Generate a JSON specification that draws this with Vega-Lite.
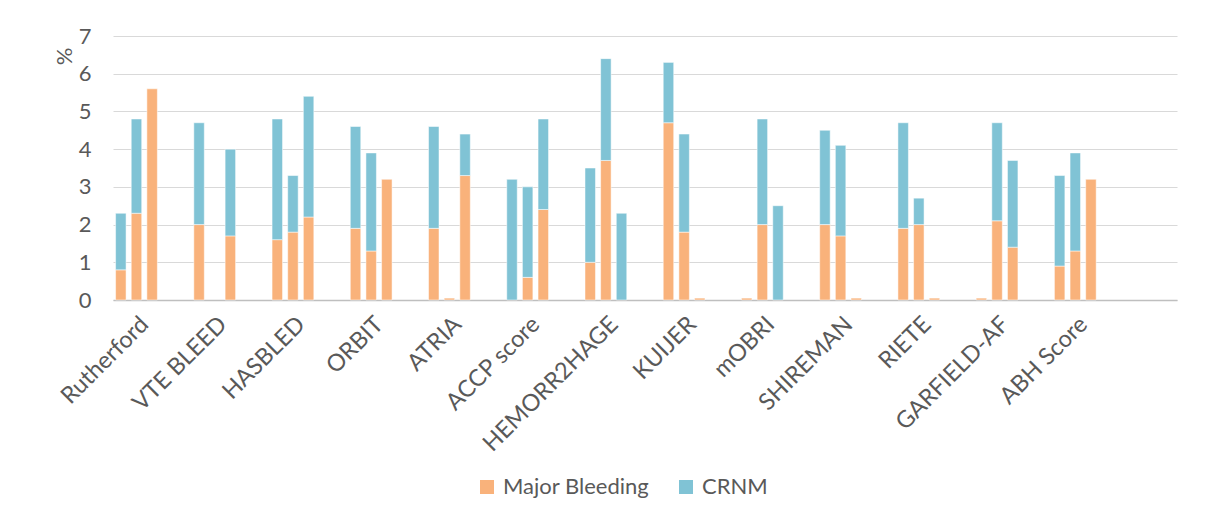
{
  "$schema": "https://vega.github.io/schema/vega-lite/v6.json",
  "width": 1064,
  "height": 264,
  "autosize": {"type": "none"},
  "padding": {"left": 113, "top": 36, "right": 38, "bottom": 222},
  "background": "white",
  "config": {
    "view": {"stroke": null},
    "font": "Lato",
    "axis": {"labelFont": "Lato", "titleFont": "Lato", "labelColor": "#595959", "titleColor": "#595959"},
    "legend": {"labelFont": "Lato", "labelColor": "#595959"}
  },
  "data": {
    "values": [
      {"slot": 0, "series": "Major Bleeding", "value": 0.8},
      {"slot": 0, "series": "CRNM", "value": 1.5},
      {"slot": 1, "series": "Major Bleeding", "value": 2.3},
      {"slot": 1, "series": "CRNM", "value": 2.5},
      {"slot": 2, "series": "Major Bleeding", "value": 5.6},
      {"slot": 5, "series": "Major Bleeding", "value": 2.0},
      {"slot": 5, "series": "CRNM", "value": 2.7},
      {"slot": 7, "series": "Major Bleeding", "value": 1.7},
      {"slot": 7, "series": "CRNM", "value": 2.3},
      {"slot": 10, "series": "Major Bleeding", "value": 1.6},
      {"slot": 10, "series": "CRNM", "value": 3.2},
      {"slot": 11, "series": "Major Bleeding", "value": 1.8},
      {"slot": 11, "series": "CRNM", "value": 1.5},
      {"slot": 12, "series": "Major Bleeding", "value": 2.2},
      {"slot": 12, "series": "CRNM", "value": 3.2},
      {"slot": 15, "series": "Major Bleeding", "value": 1.9},
      {"slot": 15, "series": "CRNM", "value": 2.7},
      {"slot": 16, "series": "Major Bleeding", "value": 1.3},
      {"slot": 16, "series": "CRNM", "value": 2.6},
      {"slot": 17, "series": "Major Bleeding", "value": 3.2},
      {"slot": 20, "series": "Major Bleeding", "value": 1.9},
      {"slot": 20, "series": "CRNM", "value": 2.7},
      {"slot": 21, "series": "Major Bleeding", "value": 0.05},
      {"slot": 22, "series": "Major Bleeding", "value": 3.3},
      {"slot": 22, "series": "CRNM", "value": 1.1},
      {"slot": 25, "series": "CRNM", "value": 3.2},
      {"slot": 26, "series": "Major Bleeding", "value": 0.6},
      {"slot": 26, "series": "CRNM", "value": 2.4},
      {"slot": 27, "series": "Major Bleeding", "value": 2.4},
      {"slot": 27, "series": "CRNM", "value": 2.4},
      {"slot": 30, "series": "Major Bleeding", "value": 1.0},
      {"slot": 30, "series": "CRNM", "value": 2.5},
      {"slot": 31, "series": "Major Bleeding", "value": 3.7},
      {"slot": 31, "series": "CRNM", "value": 2.7},
      {"slot": 32, "series": "CRNM", "value": 2.3},
      {"slot": 35, "series": "Major Bleeding", "value": 4.7},
      {"slot": 35, "series": "CRNM", "value": 1.6},
      {"slot": 36, "series": "Major Bleeding", "value": 1.8},
      {"slot": 36, "series": "CRNM", "value": 2.6},
      {"slot": 37, "series": "Major Bleeding", "value": 0.05},
      {"slot": 40, "series": "Major Bleeding", "value": 0.05},
      {"slot": 41, "series": "Major Bleeding", "value": 2.0},
      {"slot": 41, "series": "CRNM", "value": 2.8},
      {"slot": 42, "series": "CRNM", "value": 2.5},
      {"slot": 45, "series": "Major Bleeding", "value": 2.0},
      {"slot": 45, "series": "CRNM", "value": 2.5},
      {"slot": 46, "series": "Major Bleeding", "value": 1.7},
      {"slot": 46, "series": "CRNM", "value": 2.4},
      {"slot": 47, "series": "Major Bleeding", "value": 0.05},
      {"slot": 50, "series": "Major Bleeding", "value": 1.9},
      {"slot": 50, "series": "CRNM", "value": 2.8},
      {"slot": 51, "series": "Major Bleeding", "value": 2.0},
      {"slot": 51, "series": "CRNM", "value": 0.7},
      {"slot": 52, "series": "Major Bleeding", "value": 0.05},
      {"slot": 55, "series": "Major Bleeding", "value": 0.05},
      {"slot": 56, "series": "Major Bleeding", "value": 2.1},
      {"slot": 56, "series": "CRNM", "value": 2.6},
      {"slot": 57, "series": "Major Bleeding", "value": 1.4},
      {"slot": 57, "series": "CRNM", "value": 2.3},
      {"slot": 60, "series": "Major Bleeding", "value": 0.9},
      {"slot": 60, "series": "CRNM", "value": 2.4},
      {"slot": 61, "series": "Major Bleeding", "value": 1.3},
      {"slot": 61, "series": "CRNM", "value": 2.6},
      {"slot": 62, "series": "Major Bleeding", "value": 3.2}
    ]
  },
  "mark": {"type": "bar", "stroke": "white", "strokeWidth": 1, "strokeOpacity": 0.5},
  "encoding": {
    "x": {
      "field": "slot",
      "type": "ordinal",
      "scale": {
        "domain": [0,1,2,3,4,5,6,7,8,9,10,11,12,13,14,15,16,17,18,19,20,21,22,23,24,25,26,27,28,29,30,31,32,33,34,35,36,37,38,39,40,41,42,43,44,45,46,47,48,49,50,51,52,53,54,55,56,57,58,59,60,61,62,63,64,65,66,67],
        "paddingInner": 0.33,
        "paddingOuter": 0.165
      },
      "axis": {
        "title": null,
        "labelExpr": "datum.value % 5 == 1 && datum.value < 65 ? ['Rutherford','VTE BLEED','HASBLED','ORBIT','ATRIA','ACCP score','HEMORR2HAGE','KUIJER','mOBRI','SHIREMAN','RIETE','GARFIELD-AF','ABH Score'][floor(datum.value / 5)] : ''",
        "labelAngle": -45,
        "labelAlign": "right",
        "labelBaseline": "top",
        "labelFontSize": 23.5,
        "labelPadding": 12,
        "labelDx": -14,
        "labelDy": -2,
        "labelOverlap": false,
        "labelBound": false,
        "ticks": false,
        "domainColor": "#BFBFBF",
        "domainWidth": 1.5,
        "grid": false
      }
    },
    "y": {
      "field": "value",
      "type": "quantitative",
      "stack": "zero",
      "scale": {"domain": [0, 7], "nice": false},
      "axis": {
        "title": "%",
        "titleFontSize": 22,
        "titleFontWeight": "normal",
        "titleAngle": -90,
        "titleAlign": "center",
        "titleBaseline": "middle",
        "titleX": -49,
        "titleY": 20,
        "values": [0, 1, 2, 3, 4, 5, 6, 7],
        "labelFontSize": 22,
        "labelPadding": 22,
        "ticks": false,
        "domain": false,
        "gridColor": "#D9D9D9",
        "gridWidth": 1
      }
    },
    "color": {
      "field": "series",
      "type": "nominal",
      "scale": {"domain": ["Major Bleeding", "CRNM"], "range": ["#F9B27B", "#80C3D5"]},
      "legend": {
        "title": null,
        "orient": "none",
        "direction": "horizontal",
        "legendX": 363,
        "legendY": 440,
        "symbolType": "square",
        "symbolSize": 196,
        "symbolStrokeWidth": 0,
        "labelFontSize": 22,
        "labelOffset": 5,
        "columnPadding": 25,
        "padding": 0
      }
    },
    "order": {"field": "series", "type": "nominal", "sort": "descending"}
  }
}
